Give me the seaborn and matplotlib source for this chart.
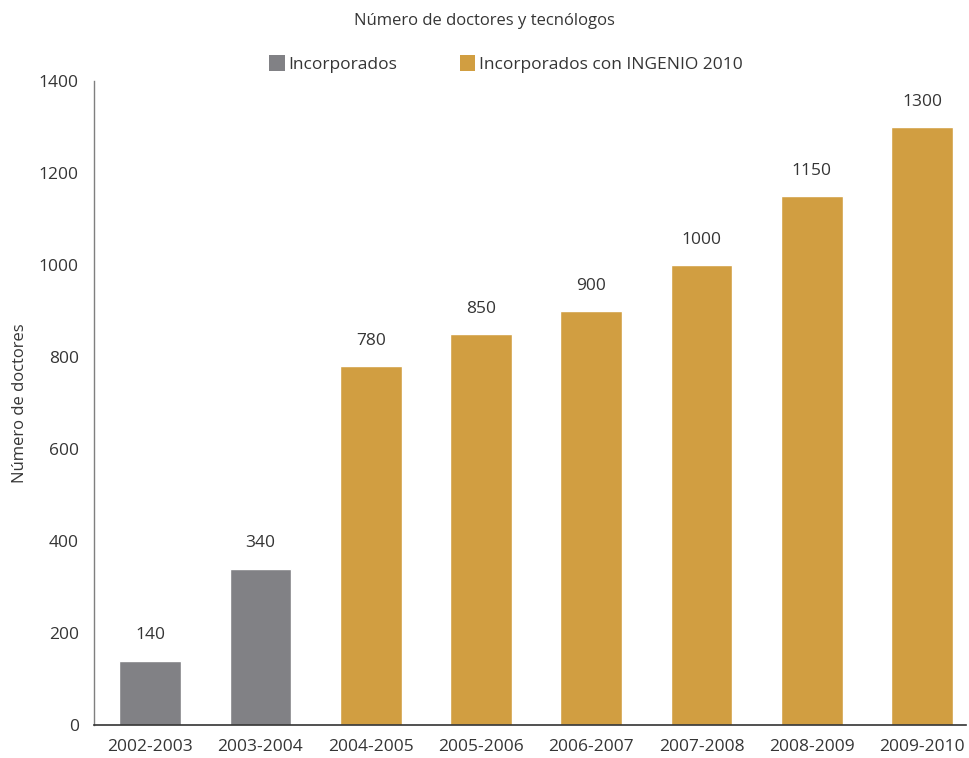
import matplotlib
matplotlib.use("Agg")
import matplotlib.pyplot as plt
from matplotlib.patches import Patch
import seaborn as sns
import pandas as pd

periods = ["2002-2003", "2003-2004", "2004-2005", "2005-2006",
           "2006-2007", "2007-2008", "2008-2009", "2009-2010"]
doctores = [140, 340, 780, 850, 900, 1000, 1150, 1300]
grupo = ["Incorporados", "Incorporados",
         "Incorporados con INGENIO 2010", "Incorporados con INGENIO 2010",
         "Incorporados con INGENIO 2010", "Incorporados con INGENIO 2010",
         "Incorporados con INGENIO 2010", "Incorporados con INGENIO 2010"]
series = ["Incorporados", "Incorporados con INGENIO 2010"]
colores = {"Incorporados": "#818185", "Incorporados con INGENIO 2010": "#D19E41"}

df = pd.DataFrame({"periodo": periods, "doctores": doctores, "grupo": grupo})

sns.set_theme(style="white")
plt.rcParams["font.family"] = ["Open Sans", "DejaVu Sans"]
txt = "#353535"

fig = plt.figure(figsize=(9.69, 7.58), dpi=100)
ax = fig.add_axes([0.097, 0.0435, 0.9, 0.8495])

sns.barplot(data=df, x="periodo", y="doctores", hue="grupo", palette=colores,
            dodge=False, width=0.56, saturation=1, legend=False, ax=ax)

for i, v in enumerate(doctores):
    ax.text(i, v + 38, f"{v}", ha="center", va="bottom", fontsize=12.5, color=txt)

ax.set_ylim(0, 1400)
ax.set_xlim(-0.51, 7.4)
ax.set_yticks(range(0, 1401, 200))
ax.tick_params(axis="both", labelsize=12.5, colors=txt, length=0)
ax.tick_params(axis="y", pad=11)
ax.tick_params(axis="x", pad=10)
ax.set_xlabel("")
ax.set_ylabel("Número de doctores", fontsize=12, color=txt)
ax.yaxis.set_label_coords(-0.076, 0.5)

for s in ["top", "right"]:
    ax.spines[s].set_visible(False)
ax.spines["left"].set_color("#7f7f7f")
ax.spines["bottom"].set_color("#333333")
ax.spines["left"].set_linewidth(1)
ax.spines["bottom"].set_linewidth(1.2)

fig.text(0.5, 0.972, "Número de doctores y tecnólogos", ha="center", va="center",
         fontsize=12, color=txt)

handles = [Patch(facecolor=colores[s], edgecolor="none") for s in series]
fig.legend(handles, series, loc="center", bbox_to_anchor=(0.522, 0.916), ncol=2,
           frameon=False, fontsize=12.5, handlelength=0.9, handleheight=1.1,
           handletextpad=0.2, columnspacing=3.6, labelcolor=txt)

fig.savefig("out.png", dpi=100)
